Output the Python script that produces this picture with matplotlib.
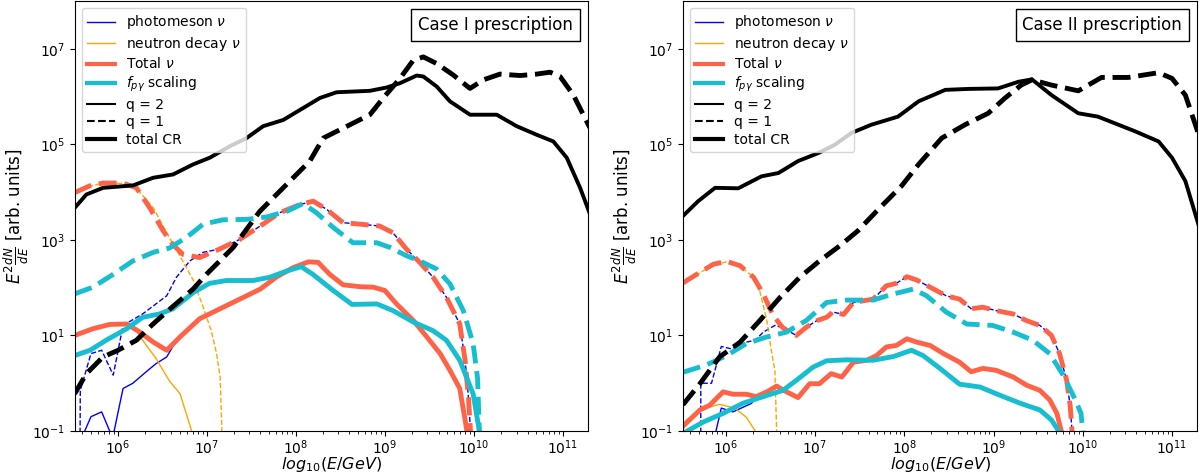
import numpy as np
import matplotlib
matplotlib.use("Agg")
import matplotlib.pyplot as plt
from matplotlib.lines import Line2D
from matplotlib.offsetbox import AnchoredText

# values as (log10 E/GeV, log10 E^2 dN/dE)

# ---- Case I ----
c1_cr_q2 = [(5.517, 3.67), (5.648, 3.95), (5.835, 4.09), (6.172, 4.14), (6.397, 4.30), (6.622, 4.37),
            (6.846, 4.58), (7.034, 4.72), (7.258, 4.96), (7.446, 5.13), (7.633, 5.38), (7.858, 5.51),
            (8.082, 5.76), (8.270, 5.97), (8.457, 6.09), (8.831, 6.12), (9.019, 6.19), (9.169, 6.28),
            (9.356, 6.44), (9.431, 6.42), (9.581, 6.21), (9.730, 5.90), (9.955, 5.62), (10.255, 5.62),
            (10.479, 5.38), (10.704, 5.20), (10.891, 5.06), (11.041, 4.72), (11.191, 4.09), (11.30, 3.55)]
c1_cr_q1 = [(5.517, -0.22), (5.648, 0.20), (5.835, 0.55), (6.004, 0.69), (6.21, 0.90), (6.397, 1.24),
            (6.547, 1.49), (6.697, 1.73), (6.846, 1.97), (6.996, 2.28), (7.146, 2.56), (7.296, 2.84),
            (7.446, 3.22), (7.596, 3.60), (7.783, 3.95), (7.97, 4.30), (8.157, 4.65), (8.307, 5.13),
            (8.607, 5.41), (8.831, 5.62), (8.981, 5.97), (9.169, 6.38), (9.318, 6.76), (9.431, 6.83),
            (9.581, 6.69), (9.768, 6.45), (9.955, 6.17), (10.105, 6.35), (10.292, 6.47), (10.517, 6.44),
            (10.704, 6.47), (10.854, 6.51), (10.966, 6.42), (11.116, 6.03), (11.30, 5.35)]
c1_tot_q1 = [(5.517, 3.99), (5.685, 4.13), (5.835, 4.19), (6.06, 4.19), (6.21, 4.09), (6.36, 3.67),
             (6.51, 3.19), (6.62, 2.90), (6.73, 2.70), (6.92, 2.63), (7.146, 2.81), (7.37, 3.01),
             (7.60, 3.29), (7.82, 3.57), (8.045, 3.74), (8.195, 3.81), (8.345, 3.64), (8.53, 3.36),
             (8.72, 3.33), (8.94, 3.29), (9.09, 3.15), (9.24, 2.81), (9.39, 2.53), (9.54, 2.22),
             (9.69, 1.80), (9.84, 1.24), (9.90, 0.48), (9.94, -0.35), (9.96, -1.0), (9.97, -2.0)]
c1_tot_q2 = [(5.517, 1.0), (5.72, 1.14), (5.91, 1.23), (6.10, 1.24), (6.25, 1.07), (6.40, 0.86),
             (6.55, 0.69), (6.70, 0.97), (6.92, 1.35), (7.15, 1.56), (7.37, 1.76), (7.60, 1.97),
             (7.78, 2.22), (7.97, 2.42), (8.14, 2.54), (8.25, 2.53), (8.38, 2.28), (8.53, 2.06),
             (8.72, 2.02), (8.87, 2.01), (9.0, 1.94), (9.13, 1.66), (9.32, 1.31), (9.47, 0.97),
             (9.62, 0.62), (9.73, 0.27), (9.84, -0.11), (9.90, -0.77), (9.92, -1.0), (9.93, -2.0)]
c1_fpg_q2 = [(5.517, 0.58), (5.69, 0.69), (5.87, 0.90), (6.10, 1.14), (6.28, 1.38), (6.47, 1.45),
             (6.62, 1.56), (6.85, 1.90), (7.03, 2.09), (7.22, 2.15), (7.52, 2.15), (7.71, 2.22),
             (7.90, 2.35), (8.06, 2.44), (8.19, 2.28), (8.42, 1.94), (8.63, 1.65), (8.91, 1.66),
             (9.09, 1.52), (9.32, 1.28), (9.54, 1.10), (9.69, 0.90), (9.84, 0.48), (9.99, -0.22),
             (10.06, -1.0), (10.07, -2.0)]
c1_fpg_q1 = [(5.517, 1.87), (5.72, 2.01), (5.95, 2.28), (6.17, 2.56), (6.40, 2.74), (6.58, 2.83),
             (6.77, 3.05), (6.96, 3.33), (7.18, 3.42), (7.45, 3.43), (7.67, 3.48), (7.90, 3.60),
             (8.08, 3.76), (8.23, 3.57), (8.42, 3.26), (8.64, 2.94), (8.91, 2.94), (9.06, 2.84),
             (9.24, 2.67), (9.39, 2.56), (9.58, 2.39), (9.73, 2.08), (9.88, 1.52), (9.99, 0.83),
             (10.04, 0.10), (10.06, -1.0), (10.07, -2.0)]
c1_neu_q2 = [(5.517, 0.97), (5.72, 1.12), (5.91, 1.21), (6.10, 1.22), (6.21, 1.10), (6.28, 0.90),
             (6.43, 0.52), (6.58, 0.05), (6.70, -0.22), (6.83, -1.0), (6.86, -1.3)]
c1_neu_q1 = [(5.517, 3.98), (5.70, 4.13), (5.87, 4.20), (6.06, 4.18), (6.21, 4.08), (6.40, 3.67),
             (6.58, 3.05), (6.73, 2.56), (6.85, 2.15), (6.96, 1.59), (7.05, 1.10), (7.11, 0.62),
             (7.15, 0.13), (7.17, -1.0), (7.18, -2.0)]
c1_pm_q2_low = [(5.60, -1.5), (5.63, -1.0), (5.70, -0.70), (5.82, -0.60), (5.91, -1.0), (5.935, -1.3),
                (5.96, -1.0), (6.06, -0.11), (6.17, 0.0), (6.32, 0.24), (6.43, 0.41), (6.55, 0.55),
                (6.66, 0.90)]
c1_pm_q1_low = [(5.575, -2.0), (5.58, -0.15), (5.70, 0.62), (5.82, 0.69), (5.95, 0.17), (6.06, 1.21),
                (6.28, 1.45), (6.55, 1.83), (6.66, 2.22), (6.81, 2.56), (6.96, 2.74)]

# ---- Case II ----
c2_cr_q2 = [(5.52, 3.50), (5.69, 3.81), (5.88, 4.09), (6.14, 4.08), (6.40, 4.33), (6.59, 4.40),
            (6.81, 4.65), (7.04, 4.82), (7.22, 4.99), (7.41, 5.24), (7.63, 5.41), (7.93, 5.58),
            (8.16, 5.90), (8.46, 6.14), (8.72, 6.16), (9.05, 6.17), (9.28, 6.31), (9.43, 6.36),
            (9.65, 6.03), (9.95, 5.65), (10.17, 5.58), (10.40, 5.41), (10.59, 5.27), (10.85, 5.06),
            (11.00, 4.72), (11.15, 4.23), (11.30, 3.30)]
c2_cr_q1 = [(5.52, -0.45), (5.71, -0.01), (5.93, 0.55), (6.16, 0.86), (6.38, 1.31), (6.61, 1.80),
            (6.83, 2.22), (7.05, 2.56), (7.28, 2.88), (7.48, 3.19), (7.71, 3.64), (7.97, 4.13),
            (8.16, 4.58), (8.42, 5.13), (8.68, 5.41), (8.94, 5.65), (9.13, 5.97), (9.31, 6.24),
            (9.43, 6.35), (9.65, 6.24), (9.95, 6.12), (10.21, 6.40), (10.51, 6.40), (10.85, 6.50),
            (11.00, 6.38), (11.15, 6.03), (11.30, 5.20)]
c2_tot_q1 = [(5.52, 2.10), (5.71, 2.32), (5.86, 2.49), (6.01, 2.55), (6.16, 2.46), (6.31, 2.22),
             (6.42, 1.87), (6.53, 1.42), (6.64, 1.16), (6.79, 1.00), (6.90, 1.17), (7.02, 1.31),
             (7.13, 1.38), (7.20, 1.49), (7.32, 1.44), (7.43, 1.69), (7.65, 1.76), (7.80, 2.04),
             (7.91, 2.09), (8.03, 2.23), (8.14, 2.16), (8.29, 2.01), (8.47, 1.83), (8.62, 1.76),
             (8.75, 1.56), (8.88, 1.59), (9.03, 1.52), (9.22, 1.45), (9.37, 1.31), (9.52, 1.21),
             (9.65, 1.0), (9.74, 0.62), (9.82, 0.06), (9.86, -0.49), (9.88, -1.0), (9.89, -2.0)]
c2_tot_q2 = [(5.52, -0.90), (5.71, -0.56), (5.82, -0.46), (5.97, -0.18), (6.08, -0.23), (6.23, -0.23),
             (6.34, -0.28), (6.46, -0.18), (6.57, -0.06), (6.68, -0.18), (6.81, -0.30), (6.94, -0.01),
             (7.05, -0.01), (7.18, 0.20), (7.30, 0.13), (7.43, 0.44), (7.58, 0.48), (7.69, 0.58),
             (7.80, 0.76), (7.91, 0.79), (8.03, 0.93), (8.14, 0.86), (8.29, 0.79), (8.44, 0.62),
             (8.62, 0.44), (8.75, 0.24), (8.88, 0.31), (9.03, 0.27), (9.22, 0.13), (9.37, -0.04),
             (9.52, -0.15), (9.63, -0.35), (9.71, -0.63), (9.76, -1.0), (9.77, -2.0)]
c2_fpg_q2 = [(5.52, -1.05), (5.75, -0.81), (5.97, -0.63), (6.19, -0.42), (6.42, -0.28), (6.64, -0.15),
             (6.79, 0.06), (6.98, 0.34), (7.13, 0.47), (7.35, 0.49), (7.65, 0.48), (7.88, 0.56),
             (8.08, 0.69), (8.21, 0.58), (8.40, 0.31), (8.62, -0.02), (8.85, -0.08), (9.07, -0.25),
             (9.30, -0.42), (9.52, -0.56), (9.65, -0.77), (9.73, -1.0), (9.76, -1.5)]
c2_fpg_q1 = [(5.52, 0.23), (5.78, 0.38), (6.01, 0.58), (6.23, 0.83), (6.46, 0.97), (6.68, 1.07),
             (6.90, 1.31), (7.13, 1.69), (7.35, 1.74), (7.65, 1.74), (7.88, 1.87), (8.10, 1.97),
             (8.25, 1.83), (8.47, 1.49), (8.70, 1.24), (8.99, 1.21), (9.22, 1.07), (9.44, 0.90),
             (9.63, 0.62), (9.78, 0.17), (9.91, -0.32), (9.98, -0.63), (10.0, -1.0), (10.01, -2.0)]
c2_neu_q2 = [(5.52, -0.92), (5.56, -0.77), (5.71, -0.56), (5.93, -0.44), (6.10, -0.52), (6.23, -0.71),
             (6.33, -1.0), (6.36, -1.3)]
c2_neu_q1 = [(5.52, 2.09), (5.71, 2.31), (5.86, 2.48), (6.01, 2.54), (6.16, 2.45), (6.31, 2.22),
             (6.38, 1.94), (6.46, 1.31), (6.51, 0.69), (6.55, 0.27), (6.57, -1.0), (6.57, -2.0)]
c2_pm_q2_low = [(5.88, -2.0), (5.89, -1.0), (5.95, -0.52), (6.08, -0.60), (6.29, -0.42)]
c2_pm_q1_low = [(5.72, -2.0), (5.72, 0.0), (5.84, 0.0), (5.95, 0.77), (6.06, 0.72), (6.23, 0.86),
                (6.33, 0.90), (6.42, 1.07), (6.55, 1.21)]

# photomeson curves lie on the total curves once the neutron part has died away
c1_pm_q2 = c1_pm_q2_low + [p for p in c1_tot_q2 if p[0] >= 6.70]
c1_pm_q1 = c1_pm_q1_low + [p for p in c1_tot_q1 if p[0] >= 7.10]
c2_pm_q2 = c2_pm_q2_low + [p for p in c2_tot_q2 if p[0] >= 6.34]
c2_pm_q1 = c2_pm_q1_low + [p for p in c2_tot_q1 if p[0] >= 6.64]

panels = [
    ("Case I prescription", c1_pm_q2, c1_pm_q1, c1_neu_q2, c1_neu_q1, c1_tot_q2, c1_tot_q1,
     c1_fpg_q2, c1_fpg_q1, c1_cr_q2, c1_cr_q1),
    ("Case II prescription", c2_pm_q2, c2_pm_q1, c2_neu_q2, c2_neu_q1, c2_tot_q2, c2_tot_q1,
     c2_fpg_q2, c2_fpg_q1, c2_cr_q2, c2_cr_q1),
]

RED = "tomato"
CYAN = "#17becf"


def xy(p):
    a = np.array(p)
    return 10 ** a[:, 0], 10 ** a[:, 1]


fig = plt.figure(figsize=(12.03, 4.76), dpi=100)
axes = [fig.add_axes([0.0623, 0.0945, 0.4265, 0.9034]),
        fig.add_axes([0.5677, 0.0945, 0.4273, 0.9034])]

for ax, (title, pm2, pm1, ne2, ne1, to2, to1, fp2, fp1, cr2, cr1) in zip(axes, panels):
    ax.plot(*xy(pm2), color="blue", lw=1)
    ax.plot(*xy(pm1), color="blue", lw=1, ls="--")
    ax.plot(*xy(ne2), color="orange", lw=1)
    ax.plot(*xy(ne1), color="orange", lw=1, ls="--")
    ax.plot(*xy(to2), color=RED, lw=3.5)
    ax.plot(*xy(to1), color=RED, lw=3.5, ls="--")
    ax.plot(*xy(fp2), color=CYAN, lw=3.5)
    ax.plot(*xy(fp1), color=CYAN, lw=3.5, ls="--")
    ax.plot(*xy(cr2), color="black", lw=2.8)
    ax.plot(*xy(cr1), color="black", lw=3.5, ls="--")

    ax.set_xscale("log")
    ax.set_yscale("log")
    ax.set_xlim(10 ** 5.52, 10 ** 11.28)
    ax.set_ylim(1e-1, 1e8)
    ax.set_yticks([1e-1, 1e1, 1e3, 1e5, 1e7])
    ax.yaxis.set_minor_locator(matplotlib.ticker.NullLocator())
    ax.tick_params(labelsize=10)
    ax.tick_params(axis="x", which="major", pad=1.5)
    ax.set_xlabel(r"$log_{10}(E/GeV)$", fontsize=11.5, labelpad=-1)
    ax.set_ylabel(r"$E^2\frac{dN}{dE}$ [arb. units]", fontsize=12, labelpad=1)

    handles = [
        Line2D([], [], color="blue", lw=1),
        Line2D([], [], color="orange", lw=1),
        Line2D([], [], color=RED, lw=3),
        Line2D([], [], color=CYAN, lw=3),
        Line2D([], [], color="black", lw=1.5),
        Line2D([], [], color="black", lw=1.5, ls="--"),
        Line2D([], [], color="black", lw=3),
    ]
    labels = [r"photomeson $\nu$", r"neutron decay $\nu$", r"Total $\nu$",
              r"$f_{p\gamma}$ scaling", "q = 2", "q = 1", "total CR"]
    ax.legend(handles, labels, loc="upper left", fontsize=10, labelspacing=0.25,
              borderaxespad=0.5)

    at = AnchoredText(title, loc="upper right", prop=dict(size=12))
    at.patch.set_boxstyle("square,pad=0.")
    ax.add_artist(at)

fig.savefig("out.png", dpi=100)
